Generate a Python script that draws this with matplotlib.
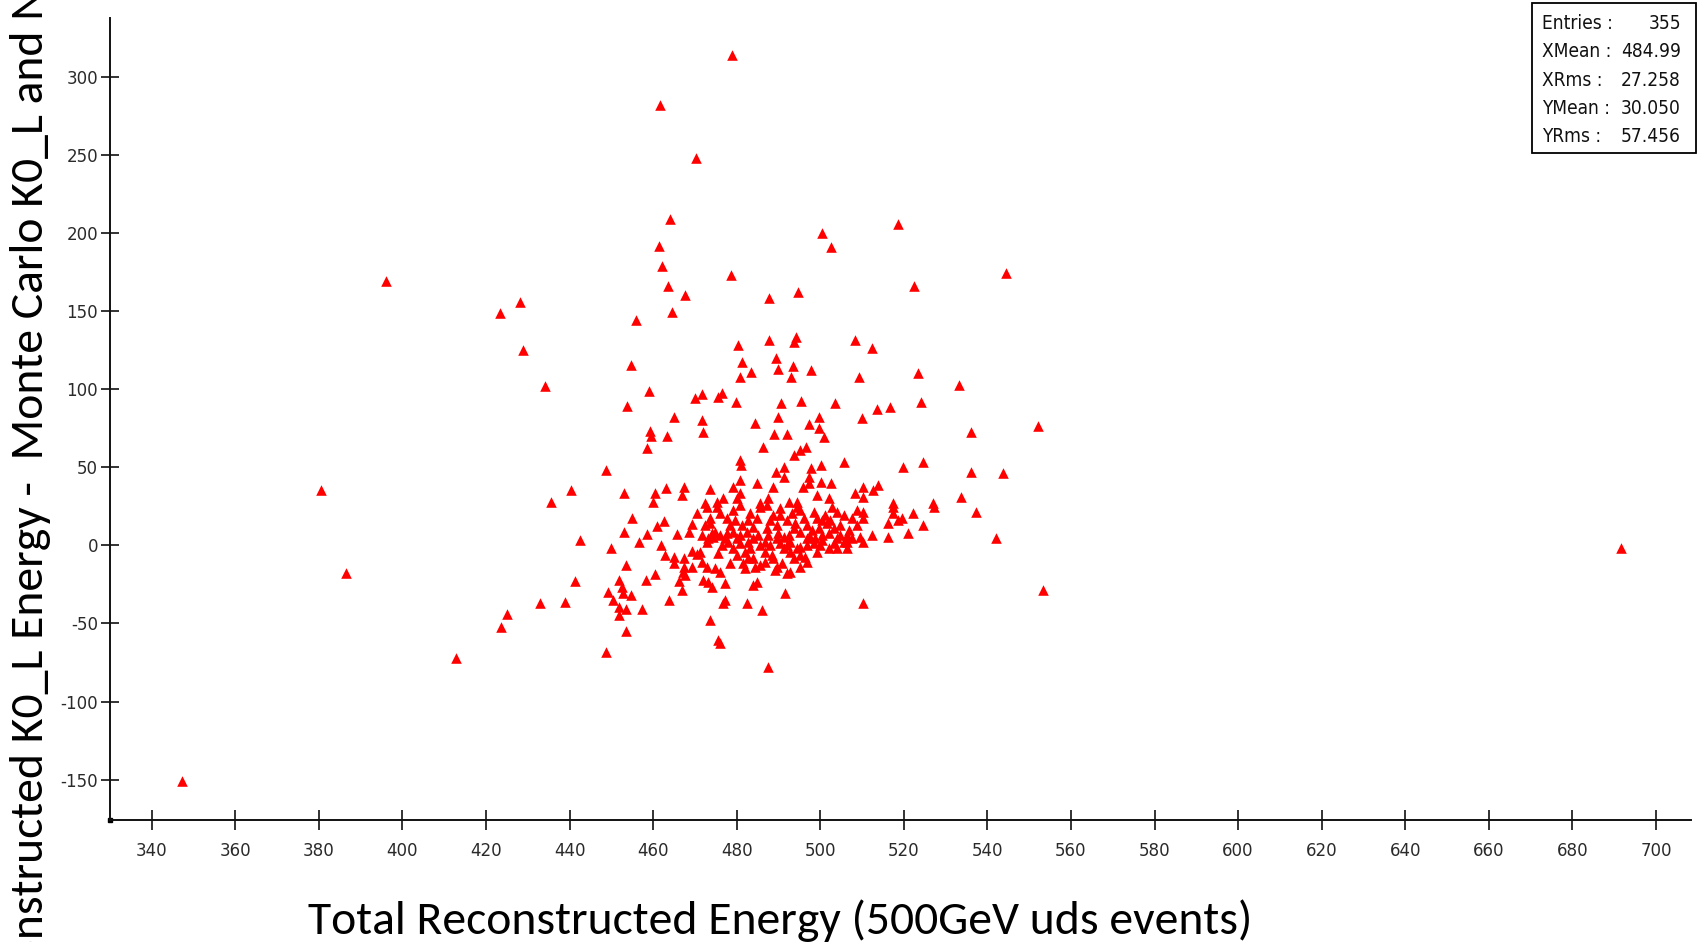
import matplotlib
matplotlib.use('Agg')
import matplotlib.pyplot as plt
from matplotlib import font_manager
from matplotlib.patches import Rectangle

# ---------------- data ----------------
total_energy = [
    # sparse / outliers
    347.3, 380.5, 386.5, 396.1, 412.9, 423.3, 428.2, 423.6, 425.1, 691.7,
    # upper region
    478.9, 461.7, 470.3, 464.0, 461.5, 462.0, 463.5, 467.7, 464.6, 456.0,
    478.6, 487.7, 494.7, 500.4, 502.5, 518.6, 522.5, 544.5,
    # left-middle
    428.9, 434.0, 454.6, 459.0, 453.8, 470.0, 464.9, 459.2, 459.6, 463.3,
    458.5, 448.7, 440.4, 435.6, 453.0, 460.4, 459.9, 463.1, 467.3, 466.9,
    # centre-middle
    480.4, 487.8, 494.1, 493.8, 508.4, 512.3, 481.2, 480.8, 483.4, 489.4,
    489.8, 493.4, 492.9, 497.8, 509.3, 471.6, 475.6, 476.4, 479.9, 490.6,
    495.3, 503.6, 513.5, 471.6, 471.9, 484.3, 489.8, 510.1, 497.3, 499.7,
    499.7, 501.0, 489.0, 492.1, 486.2, 493.8, 495.2, 496.5, 480.7, 481.0,
    505.7, 489.4, 491.4, 491.4, 500.1, 497.8, 497.4, 497.2, 480.8, 473.6,
    479.2, 480.8, 480.0, 484.8, 488.6, 495.8, 500.1, 502.5, 508.3, 510.3,
    510.3, 512.7, 513.9, 476.8, 475.2, 487.6, 485.6, 492.4, 494.4, 499.2,
    502.0, 472.4,
    # right-middle
    523.5, 533.3, 516.7, 524.2, 536.1, 552.0, 519.9, 524.7, 536.1, 543.7,
    533.7, 517.5, 526.9,
    # left-lower
    455.0, 453.1, 442.4, 449.9, 456.6, 458.6, 461.0, 462.5, 465.7, 468.5,
    469.3, 470.4, 461.8, 462.9, 464.9, 464.9, 467.3, 467.3, 469.3, 470.4,
    469.3, 467.1, 467.7, 466.1, 466.9, 453.5, 460.5, 458.2, 451.9, 452.5,
    452.7, 449.1, 450.3, 454.6, 441.2, 438.8, 432.8, 451.9, 453.5, 451.8,
    457.4, 463.7, 453.4, 448.7,
    # dense core
    472.8, 475.2, 479.2, 485.6, 487.2, 490.4, 494.4, 495.2, 499.2, 502.8,
    504.0, 505.6, 508.8, 510.3, 510.3, 473.6, 477.6, 479.6, 482.8, 484.8,
    480.8, 473.6, 474.0, 474.8, 476.0, 477.6, 479.2, 480.8, 482.4, 484.0,
    485.2, 487.2, 489.6, 490.0, 491.2, 492.4, 493.6, 495.2, 496.8, 497.6,
    498.8, 500.4, 501.6, 503.2, 504.8, 506.4, 509.5, 512.3, 502.0, 504.0,
    471.2, 472.8, 475.6, 478.0, 480.8, 482.8, 482.0, 483.2, 486.8, 488.0,
    490.4, 492.0, 492.8, 494.4, 495.2, 496.8, 498.4, 500.4, 504.0, 506.4,
    510.3, 481.6, 482.0, 484.0, 484.4, 485.6, 488.8, 489.2, 490.8, 492.0,
    493.6, 495.2, 496.4, 472.0, 473.2, 474.8, 474.0, 477.2, 484.0, 484.8,
    491.6, 477.2, 476.8, 482.4, 486.0, 510.3, 473.6, 475.6, 476.0, 487.6,
    490.4, 492.0, 493.2, 496.0, 496.8, 491.2, 489.6, 492.8, 501.2, 502.4,
    504.8, 506.8, 506.4, 503.2, 499.6, 498.0, 486.8, 485.6, 484.0, 480.0,
    477.2, 474.4, 473.2, 488.0, 488.8, 483.2, 476.0, 472.4, 471.6, 508.8,
    507.6, 494.0, 498.4, 500.4, 505.6, 507.6, 487.6, 481.2, 478.4, 479.2,
    476.4, 488.4, 495.2, 499.2, 489.6, 486.8, 482.8, 480.0, 478.4, 476.0,
    472.8, 471.6, 492.8, 496.8, 500.0, 502.0,
    # right-lower
    517.5, 517.5, 516.3, 518.7, 519.5, 516.3, 521.1, 522.3, 524.7, 527.1,
    537.3, 542.1, 553.2,
]

energy_diff = [
    -151.0, 35.4, -17.4, 169.4, -72.0, 148.6, 155.6, -52.0, -43.8, -1.4,
    313.9, 281.9, 247.9, 209.0, 191.7, 179.2, 166.0, 160.4, 149.3, 144.4,
    172.9, 158.3, 162.5, 200.0, 191.0, 206.0, 166.0, 174.3,
    125.1, 102.1, 115.5, 98.9, 89.3, 94.2, 82.0, 73.5, 70.2, 70.0,
    62.2, 48.3, 35.5, 28.0, 33.8, 33.5, 28.0, 36.7, 37.6, 32.3,
    128.3, 131.5, 133.7, 130.5, 131.5, 126.2, 117.2, 108.1, 111.3, 119.8,
    113.0, 114.9, 108.1, 112.3, 107.6, 96.7, 95.2, 97.4, 92.0, 91.0,
    92.5, 91.0, 87.4, 80.3, 72.8, 78.6, 82.0, 81.4, 77.5, 82.0,
    75.0, 69.2, 71.4, 71.4, 63.2, 57.9, 61.1, 63.2, 54.7, 51.5,
    53.6, 47.2, 50.4, 44.0, 51.5, 49.3, 44.0, 39.7, 41.9, 35.9,
    37.6, 33.3, 30.1, 39.7, 37.6, 37.6, 40.8, 39.7, 33.8, 37.6,
    31.2, 35.5, 38.7, 30.1, 28.0, 30.1, 27.0, 28.0, 28.0, 32.3,
    30.1, 27.0,
    110.2, 102.7, 88.4, 92.1, 72.8, 76.4, 50.4, 53.6, 47.2, 46.1,
    31.2, 27.0, 27.0,
    17.8, 8.4, 3.5, -1.5, 2.4, 7.1, 12.6, 15.6, 7.1, 8.4,
    13.5, 20.5, 0.2, -6.2, -7.2, -11.5, -8.3, -13.6, -3.6, -5.7,
    -13.6, -16.8, -19.0, -22.8, -28.6, -12.6, -18.5, -22.2, -22.2, -26.4,
    -30.7, -30.1, -35.0, -31.8, -22.8, -36.0, -37.1, -39.2, -40.7, -44.6,
    -40.9, -35.0, -54.8, -68.1,
    24.8, 24.8, 22.7, 24.8, 25.9, 23.7, 24.8, 22.7, 17.3, 24.8,
    21.6, 19.5, 22.7, 21.6, 17.3, 17.3, 17.3, 16.3, 16.3, 17.3,
    25.9, 14.1, 7.7, 8.8, 6.7, 7.7, 8.8, 6.7, 8.8, 12.0,
    6.7, 10.9, 13.1, 7.7, 5.6, 6.7, 10.9, 8.8, 13.1, 5.6,
    4.5, 6.7, 14.1, 10.9, 13.1, 6.7, 5.6, 6.7, 7.7, 4.5,
    -4.0, 2.4, -5.1, 2.4, 1.3, 2.4, -4.0, -1.9, -4.0, 0.2,
    1.3, 0.2, -4.0, -1.9, -0.8, 0.2, 1.3, 3.5, -1.9, 2.4,
    2.4, -11.5, -14.7, -8.3, -13.6, -12.6, -8.3, -15.8, -11.5, -17.9,
    -8.3, -13.6, -7.2, -22.2, -23.2, -14.7, -26.4, -24.3, -25.4, -23.2,
    -30.7, -35.0, -37.1, -37.1, -41.4, -37.1, -47.8, -60.6, -62.7, -78.1,
    19.5, 16.3, 20.5, 17.3, 4.5, -1.9, 4.5, 2.4, 19.5, 16.3,
    6.7, 9.9, -1.9, 1.3, 10.9, 9.9, 2.4, 0.2, 4.5, 4.5,
    4.5, 5.6, 4.5, 16.3, 19.5, 20.5, 20.5, 13.1, 6.7, 13.1,
    17.3, 14.1, 21.6, 16.3, 2.4, 4.5, 6.7, 13.1, 13.1, -1.9,
    0.2, -6.1, -6.1, -4.0, -13.6, -10.4, -8.3, -6.1, -11.5, -16.8,
    -13.6, -10.4, -16.8, -10.4, 0.2, -1.9,
    24.8, 20.5, 14.1, 16.3, 17.3, 5.6, 7.7, 20.5, 13.1, 24.8,
    21.6, 4.5, -28.6,
]

x_ticks = list(range(340, 701, 20))
y_ticks = list(range(-150, 301, 50))
stat_names = ["Entries :", "XMean :", "XRms :", "YMean :", "YRms :"]
stat_values = ["355", "484.99", "27.258", "30.050", "57.456"]
x_label = "Total Reconstructed Energy (500GeV uds events)"
y_label = "Reconstructed K0_L Energy -  Monte Carlo K0_L and Neutron Energy"

# ---------------- fonts ----------------
fonts = font_manager.fontManager.ttflist
names = {f.name for f in fonts}
stretch_ok = any(f.name == 'DejaVu Sans' and 'Condensed' in f.fname for f in fonts)
if 'Liberation Sans Narrow' in names:
    tick_font, tick_stretch, tick_size, stat_size = 'Liberation Sans Narrow', 'normal', 15.0, 15.0
elif stretch_ok:
    tick_font, tick_stretch, tick_size, stat_size = 'DejaVu Sans', 'condensed', 13.3, 13.7
else:
    tick_font, tick_stretch, tick_size, stat_size = 'Liberation Sans', 'normal', 13.5, 14.0
label_font = next((f for f in ['Carlito', 'Lato', 'Open Sans'] if f in names), 'DejaVu Sans')
plt.rcParams['axes.unicode_minus'] = False

W, H = 1700, 942
fig = plt.figure(figsize=(W / 100, H / 100), dpi=100)
fig.patch.set_facecolor('white')

ax = fig.add_axes([110 / W, (H - 820) / H, 1581 / W, 802 / H])
ax.scatter(total_energy, energy_diff, marker='^', s=58, color='#ff0000',
           linewidths=0, zorder=3, clip_on=False)
ax.set_xlim(330, 708.4)
ax.set_ylim(-175.9, 337.8)
for side in ('top', 'right'):
    ax.spines[side].set_visible(False)
for side in ('left', 'bottom'):
    ax.spines[side].set_linewidth(1.4)
    ax.spines[side].set_color('#111111')
ax.set_xticks(x_ticks)
ax.set_yticks(y_ticks)
ax.tick_params(axis='x', direction='inout', length=15, width=1.2, pad=8,
               labelsize=tick_size, labelcolor='#2a2a2a', color='#111111')
ax.tick_params(axis='y', direction='inout', length=13, width=1.2, pad=2,
               labelsize=tick_size, labelcolor='#2a2a2a', color='#111111')
for lbl in ax.get_xticklabels() + ax.get_yticklabels():
    lbl.set_fontfamily(tick_font)
    lbl.set_fontstretch(tick_stretch)
ax.plot([0], [0], marker='s', ms=3.5, color='black', transform=ax.transAxes,
        clip_on=False)

# x label, fitted to the reference width
xl = fig.text(780 / W, 8 / H, x_label, ha='center', va='baseline',
              fontsize=34, family=label_font, color='black')
fig.canvas.draw()
r = fig.canvas.get_renderer()
fs = 34 * 944 / xl.get_window_extent(r).width
xl.set_fontsize(fs)

# y label, clipped by the figure edges as in the reference
tmp = fig.text(0, 0, "Reconstructed ", fontsize=fs, family=label_font)
fig.canvas.draw()
prefix_w = tmp.get_window_extent(r).width
tmp.remove()
fig.text(43 / W, (200 - prefix_w) / H, y_label, rotation=90,
         rotation_mode='anchor', ha='left', va='baseline', fontsize=fs,
         family=label_font, color='black')

# statistics box
fig.add_artist(Rectangle((1531.7 / W, (H - 153.3) / H), 164 / W, 150 / H,
                         transform=fig.transFigure, facecolor='white',
                         edgecolor='black', linewidth=1.3))
row_y = [23.3, 51.7, 80.0, 108.3, 136.7]
for name, val, yy in zip(stat_names, stat_values, row_y):
    fig.text(1542 / W, (H - yy) / H, name, ha='left', va='center',
             fontsize=stat_size, family=tick_font, stretch=tick_stretch,
             color='#111111')
    fig.text(1681 / W, (H - yy) / H, val, ha='right', va='center',
             fontsize=stat_size, family=tick_font, stretch=tick_stretch,
             color='#111111')

fig.savefig('out.png', dpi=100)
